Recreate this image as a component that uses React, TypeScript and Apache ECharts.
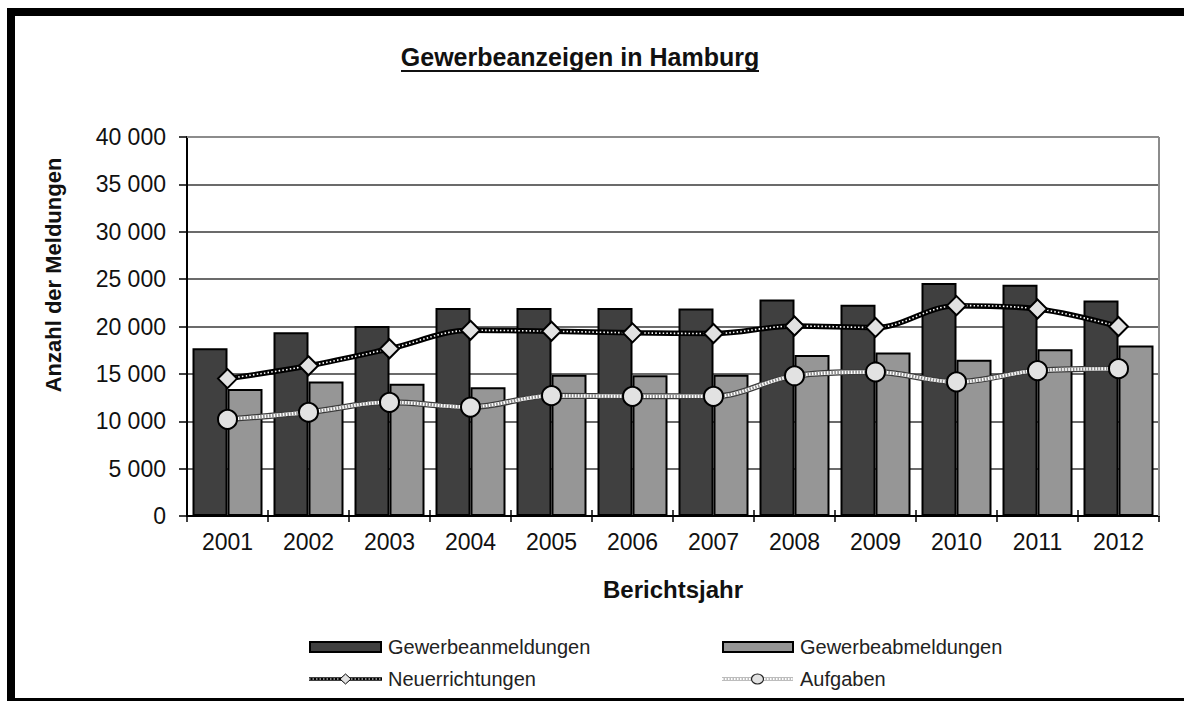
import React, { useEffect, useRef } from "react";
import * as echarts from "echarts";

const categories = ["2001", "2002", "2003", "2004", "2005", "2006", "2007", "2008", "2009", "2010", "2011", "2012"];
const gewerbeanmeldungen = [17700, 19400, 20050, 21950, 21950, 21950, 21900, 22850, 22300, 24600, 24400, 22750];
const gewerbeabmeldungen = [13400, 14200, 13950, 13600, 14900, 14850, 14900, 17000, 17250, 16500, 17600, 18000];
const neuerrichtungen = [14500, 15850, 17650, 19600, 19500, 19330, 19260, 20050, 19900, 22200, 21850, 20000];
const aufgaben = [10200, 10950, 12000, 11500, 12700, 12630, 12630, 14800, 15200, 14150, 15350, 15550];

const FONT = "'Liberation Sans', Arial, sans-serif";
const DARK = "#404040";
const LIGHT = "#969696";
const MARK = "#e2e2e2";

const fmt = (v: number) => String(v).replace(/\B(?=(\d{3})+(?!\d))/g, " ");

export default function App() {
  const ref = useRef<HTMLDivElement>(null);
  useEffect(() => {
    if (!ref.current) return;
    const chart = echarts.init(ref.current, null, { renderer: "svg" });
    const gl = 187, gr = 1159, gt = 137, gb = 516;
    const smooth = 0.35;
    chart.setOption({
      animation: false,
      backgroundColor: "#ffffff",
      grid: { left: gl, right: 1184 - gr, top: gt, bottom: 701 - gb, containLabel: false },
      xAxis: [
        {
          type: "category",
          data: categories,
          axisLine: { lineStyle: { color: "#000", width: 2 } },
          axisTick: { show: true, length: 6, lineStyle: { color: "#000", width: 1.5 } },
          axisLabel: { color: "#111", fontFamily: FONT, fontSize: 23, margin: 14 },
          name: "Berichtsjahr",
          nameLocation: "middle",
          nameGap: 61,
          nameTextStyle: { color: "#111", fontFamily: FONT, fontSize: 24, fontWeight: "bold" },
        },
        {
          type: "category",
          data: categories,
          position: "bottom",
          axisLine: { show: false },
          axisTick: { show: true, inside: true, length: 6, lineStyle: { color: "#000", width: 1.5 } },
          axisLabel: { show: false },
        },
      ],
      yAxis: {
        type: "value",
        min: 0,
        max: 40000,
        interval: 5000,
        axisLine: { show: true, lineStyle: { color: "#000", width: 2 } },
        axisTick: { show: true, length: 8, lineStyle: { color: "#000", width: 1.5 } },
        axisLabel: { color: "#111", fontFamily: FONT, fontSize: 23, margin: 21, formatter: (v: number) => fmt(v) },
        splitLine: { show: true, lineStyle: { color: "#3a3a3a", width: 1.5 } },
      },
      series: [
        {
          name: "Gewerbeanmeldungen",
          type: "bar",
          data: gewerbeanmeldungen,
          barWidth: 35,
          barGap: "0%",
          itemStyle: { color: DARK, borderColor: "#000", borderWidth: 2 },
          z: 2,
          silent: true,
        },
        {
          name: "Gewerbeabmeldungen",
          type: "bar",
          data: gewerbeabmeldungen,
          barWidth: 35,
          barGap: "0%",
          itemStyle: { color: LIGHT, borderColor: "#000", borderWidth: 2 },
          z: 2,
          silent: true,
        },
        {
          name: "Aufgaben-base",
          type: "line",
          data: aufgaben,
          smooth,
          symbol: "none",
          lineStyle: { color: "#3a3a3a", width: 6 },
          z: 3,
          silent: true,
        },
        {
          name: "Aufgaben-mid",
          type: "line",
          data: aufgaben,
          smooth,
          symbol: "none",
          lineStyle: { color: "#ffffff", width: 3.5 },
          z: 3,
          silent: true,
        },
        {
          name: "Aufgaben-dots",
          type: "line",
          data: aufgaben,
          smooth,
          symbol: "none",
          lineStyle: { color: "#8a8a8a", width: 3.5, type: [1.5, 1.5] },
          z: 3,
          silent: true,
        },
        {
          name: "Neuerrichtungen-base",
          type: "line",
          data: neuerrichtungen,
          smooth,
          symbol: "none",
          lineStyle: { color: "#000", width: 5.5 },
          z: 3,
          silent: true,
        },
        {
          name: "Neuerrichtungen-dots",
          type: "line",
          data: neuerrichtungen,
          smooth,
          symbol: "none",
          lineStyle: { color: "#ffffff", width: 1.6, type: [1.5, 2.2] },
          z: 3,
          silent: true,
        },
        {
          name: "Aufgaben",
          type: "line",
          data: aufgaben,
          symbol: "circle",
          symbolSize: 19,
          showSymbol: true,
          showAllSymbol: true,
          lineStyle: { width: 0, opacity: 0 },
          itemStyle: { color: MARK, borderColor: "#000", borderWidth: 2, opacity: 1 },
          z: 5,
          silent: true,
        },
        {
          name: "Neuerrichtungen",
          type: "line",
          data: neuerrichtungen,
          symbol: "diamond",
          symbolSize: 19,
          showSymbol: true,
          showAllSymbol: true,
          lineStyle: { width: 0, opacity: 0 },
          itemStyle: { color: MARK, borderColor: "#000", borderWidth: 2, opacity: 1 },
          z: 5,
          silent: true,
        },
      ],
      graphic: [
        // frame
        { type: "rect", shape: { x: 7, y: 8, width: 1177, height: 8 }, style: { fill: "#000" }, z: 100 },
        { type: "rect", shape: { x: 7, y: 8, width: 8, height: 693 }, style: { fill: "#000" }, z: 100 },
        { type: "rect", shape: { x: 7, y: 698, width: 1177, height: 3 }, style: { fill: "#000" }, z: 100 },
        // plot border top/right
        { type: "line", shape: { x1: gl, y1: gt, x2: gr, y2: gt }, style: { stroke: "#8c8c8c", lineWidth: 2 }, z: 100 },
        { type: "line", shape: { x1: gr, y1: gt, x2: gr, y2: gb }, style: { stroke: "#8c8c8c", lineWidth: 2 }, z: 100 },
        // title
        {
          type: "text",
          x: 580,
          y: 57,
          style: {
            text: "Gewerbeanzeigen in Hamburg",
            fill: "#111",
            font: `bold 25px ${FONT}`,
            align: "center",
            verticalAlign: "middle",
          },
          z: 100,
        },
        { type: "line", shape: { x1: 401, y1: 71, x2: 759, y2: 71 }, style: { stroke: "#111", lineWidth: 2 }, z: 100 },
        // y axis title
        {
          type: "text",
          x: 53,
          y: 275,
          rotation: Math.PI / 2,
          style: {
            text: "Anzahl der Meldungen",
            fill: "#111",
            font: `bold 22px ${FONT}`,
            align: "center",
            verticalAlign: "middle",
          },
          z: 100,
        },
        // legend row 1
        { type: "rect", shape: { x: 310, y: 642, width: 71, height: 10 }, style: { fill: DARK, stroke: "#000", lineWidth: 2 }, z: 100 },
        { type: "text", x: 388, y: 647, style: { text: "Gewerbeanmeldungen", fill: "#222", font: `20px ${FONT}`, verticalAlign: "middle" }, z: 100 },
        { type: "rect", shape: { x: 723, y: 642, width: 70, height: 10 }, style: { fill: LIGHT, stroke: "#000", lineWidth: 2 }, z: 100 },
        { type: "text", x: 800, y: 647, style: { text: "Gewerbeabmeldungen", fill: "#222", font: `20px ${FONT}`, verticalAlign: "middle" }, z: 100 },
        // legend row 2
        { type: "line", shape: { x1: 309, y1: 679, x2: 382, y2: 679 }, style: { stroke: "#000", lineWidth: 3.5 }, z: 100 },
        { type: "line", shape: { x1: 309, y1: 679, x2: 382, y2: 679 }, style: { stroke: "#fff", lineWidth: 1, lineDash: [1.5, 2] }, z: 100 },
        { type: "polygon", shape: { points: [[345.5, 674], [351, 679], [345.5, 684], [340, 679]] }, style: { fill: MARK, stroke: "#000", lineWidth: 1 }, z: 101 },
        { type: "text", x: 388, y: 679, style: { text: "Neuerrichtungen", fill: "#222", font: `20px ${FONT}`, verticalAlign: "middle" }, z: 100 },
        { type: "line", shape: { x1: 722, y1: 679, x2: 793, y2: 679 }, style: { stroke: "#bdbdbd", lineWidth: 4 }, z: 100 },
        { type: "line", shape: { x1: 722, y1: 679, x2: 793, y2: 679 }, style: { stroke: "#fff", lineWidth: 2, lineDash: [1.5, 1.5] }, z: 100 },
        { type: "ellipse", shape: { cx: 757.5, cy: 679, rx: 6, ry: 5 }, style: { fill: MARK, stroke: "#222", lineWidth: 1.2 }, z: 101 },
        { type: "text", x: 800, y: 679, style: { text: "Aufgaben", fill: "#222", font: `20px ${FONT}`, verticalAlign: "middle" }, z: 100 },
      ],
    });
    return () => chart.dispose();
  }, []);
  return (
    <div
      ref={ref}
      style={{ position: "absolute", left: 0, top: 0, width: 1184, height: 701, background: "#fff" }}
    />
  );
}
